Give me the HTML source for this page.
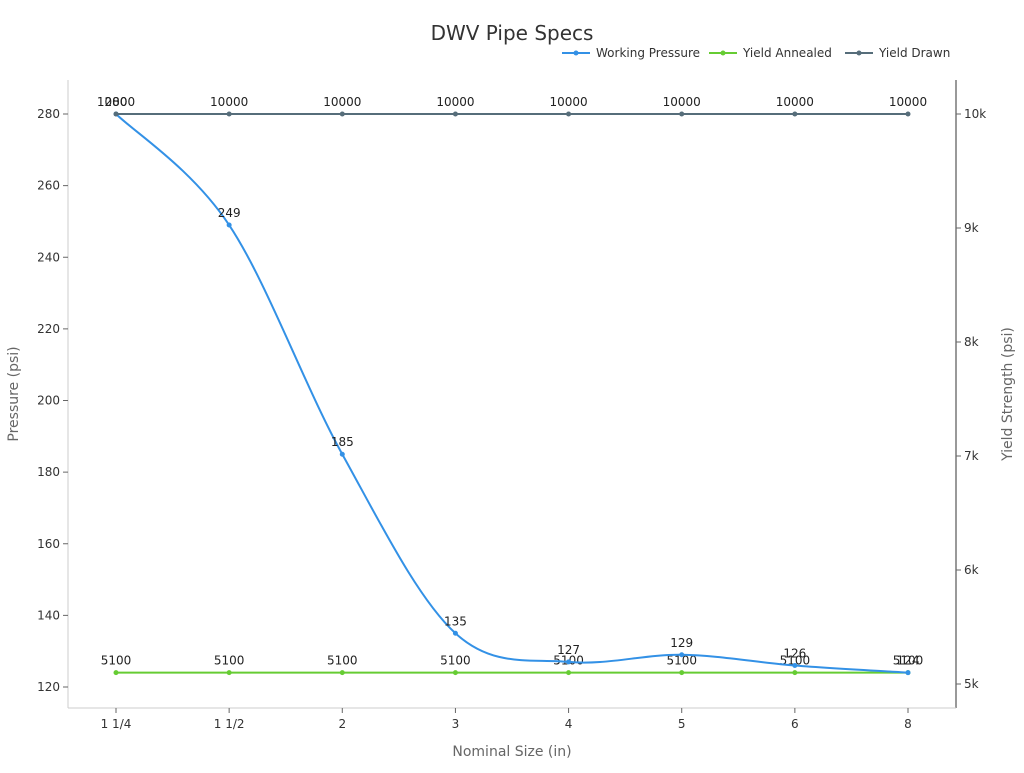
<!DOCTYPE html>
<html><head><meta charset="utf-8"><style>
body{margin:0;background:#fff;font-family:"Liberation Sans","DejaVu Sans",sans-serif}
svg text{font-family:"DejaVu Sans","Liberation Sans",sans-serif}
</style></head><body>
<svg id="c" width="1024" height="768"></svg>
<script>
const categories=["1 1/4","1 1/2","2","3","4","5","6","8"];
const workingPressure=[280,249,185,135,127,129,126,124];
const yieldAnnealed=[5100,5100,5100,5100,5100,5100,5100,5100];
const yieldDrawn=[10000,10000,10000,10000,10000,10000,10000,10000];
const leftTicks=[120,140,160,180,200,220,240,260,280];
const rightTicks=[5000,6000,7000,8000,9000,10000];
const rightTickLabels=["5k","6k","7k","8k","9k","10k"];

const NS="http://www.w3.org/2000/svg";
const svg=document.getElementById("c");
function mk(t,a,p){const e=document.createElementNS(NS,t);for(const k in a)e.setAttribute(k,a[k]);(p||svg).appendChild(e);return e;}
const L=68,R=956,T=80,B=708;
const x=i=>116+i*(908-116)/(categories.length-1);
const yL=v=>114+(280-v)*(687-114)/160;
const yR=v=>114+(10000-v)*(684-114)/5000;

let t=mk("text",{x:512,y:40,"text-anchor":"middle","font-size":20,fill:"#333"});t.textContent="DWV Pipe Specs";


let g=mk("g",{});
mk("line",{x1:L,y1:T,x2:L,y2:B,stroke:"#ccc"},g);
leftTicks.forEach(v=>{mk("line",{x1:L-5,y1:yL(v),x2:L,y2:yL(v),stroke:"#666"},g);
 const e=mk("text",{x:L-8,y:yL(v)+4,"text-anchor":"end","font-size":12,fill:"#333"},g);e.textContent=v;
 });
t=mk("text",{x:18,y:394,"text-anchor":"middle","font-size":14,fill:"#666",transform:"rotate(-90 18 394)"});t.textContent="Pressure (psi)";


g=mk("g",{});
mk("line",{x1:R,y1:T,x2:R,y2:B,stroke:"#333"},g);
rightTicks.forEach((v,i)=>{mk("line",{x1:R,y1:yR(v),x2:R+5,y2:yR(v),stroke:"#666"},g);
 const e=mk("text",{x:R+8,y:yR(v)+4,"font-size":12,fill:"#333"},g);e.textContent=rightTickLabels[i];
 });
t=mk("text",{x:1012,y:394,"text-anchor":"middle","font-size":14,fill:"#666",transform:"rotate(-90 1012 394)"});t.textContent="Yield Strength (psi)";


g=mk("g",{});
mk("line",{x1:L,y1:B,x2:R,y2:B,stroke:"#ccc"},g);
categories.forEach((c,i)=>{mk("line",{x1:x(i),y1:B,x2:x(i),y2:B+5,stroke:"#666"},g);
 const e=mk("text",{x:x(i),y:B+20,"text-anchor":"middle","font-size":12,fill:"#333"},g);e.textContent=c;
 });
t=mk("text",{x:512,y:756,"text-anchor":"middle","font-size":14,fill:"#666"});t.textContent="Nominal Size (in)";


function smooth(p){let d=`M${p[0][0]},${p[0][1]}`;for(let i=0;i<p.length-1;i++){const p0=p[i-1]||p[i],p1=p[i],p2=p[i+1],p3=p[i+2]||p2;
 d+=` C${p1[0]+(p2[0]-p0[0])/6},${p1[1]+(p2[1]-p0[1])/6} ${p2[0]-(p3[0]-p1[0])/6},${p2[1]-(p3[1]-p1[1])/6} ${p2[0]},${p2[1]}`;}return d;}
function series(vals,yf,color,name,curve){
 const sg=mk("g",{});
 const pts=vals.map((v,i)=>[x(i),yf(v)]);
 const path=mk("path",{d:curve?smooth(pts):"M"+pts.map(p=>p.join(",")).join(" L"),fill:"none",stroke:color,"stroke-width":2},sg);
 
 pts.forEach((p,i)=>{const c=mk("circle",{cx:p[0],cy:p[1],r:2.5,fill:color},sg);
  
  const e=mk("text",{x:p[0],y:p[1]-8,"text-anchor":"middle","font-size":12,fill:"#222"},sg);e.textContent=vals[i];
  });
}
series(yieldAnnealed,yR,"#66cc33","yield-annealed",false);
series(workingPressure,yL,"#3391e6","working-pressure",true);
series(yieldDrawn,yR,"#566d7a","yield-drawn",false);

const leg=[["Working Pressure","#3391e6",562],["Yield Annealed","#66cc33",709],["Yield Drawn","#566d7a",845]];
leg.forEach(l=>{const lg=mk("g",{});
 mk("line",{x1:l[2],y1:53,x2:l[2]+28,y2:53,stroke:l[1],"stroke-width":2},lg);
 mk("circle",{cx:l[2]+14,cy:53,r:2.5,fill:l[1]},lg);
 const e=mk("text",{x:l[2]+34,y:57,"font-size":12,fill:"#333"},lg);e.textContent=l[0];});
</script>
</body></html>
